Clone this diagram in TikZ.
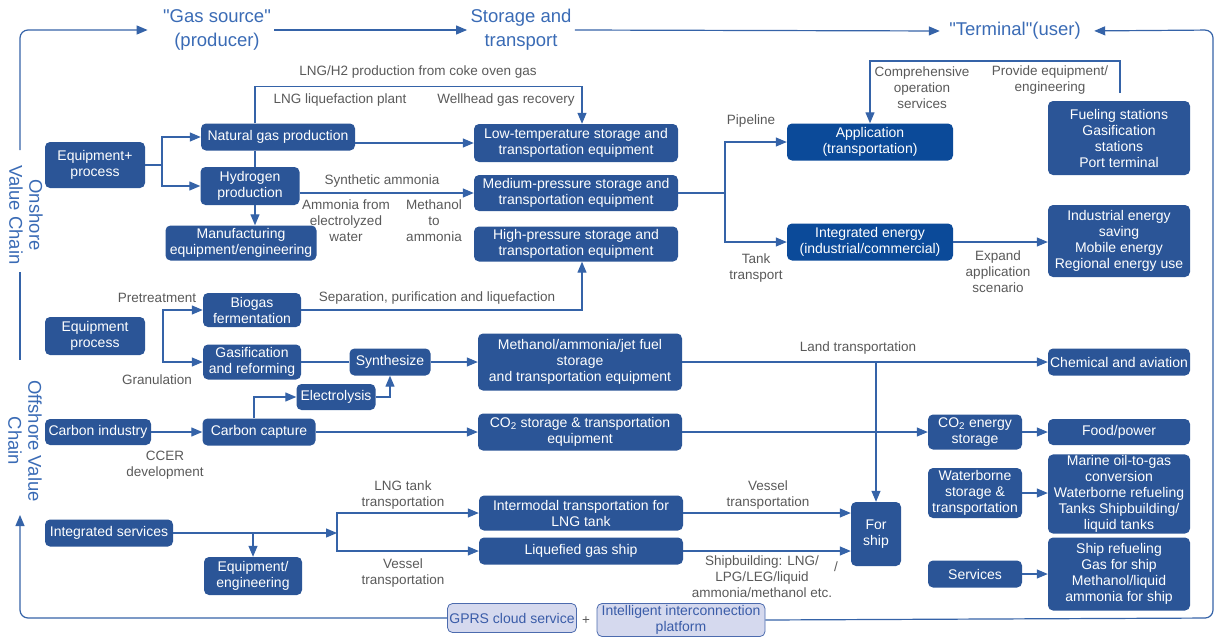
\documentclass[tikz,border=0pt]{standalone}
\usepackage{fontspec}
\setmainfont{Liberation Sans}
\usepackage{tikz}
\usetikzlibrary{arrows.meta,positioning,calc}

\definecolor{boxblue}{HTML}{2B5597}
\definecolor{appblue}{HTML}{0B4A99}
\definecolor{lineblue}{HTML}{3563A8}
\definecolor{titleblue}{HTML}{3A6BB5}
\definecolor{txtgray}{HTML}{595959}
\definecolor{lightfill}{HTML}{D5D9EE}
\definecolor{lightdraw}{HTML}{4C6BAE}
\definecolor{lighttext}{HTML}{3A5CA8}

\begin{document}
\begin{tikzpicture}[
    x=1pt, y=-1pt,
    box/.style={rectangle, rounded corners=5pt, fill=boxblue, text=white, align=center, inner sep=1pt, font=\fontsize{14}{16}\selectfont},
    appbox/.style={box, fill=appblue},
    lightbox/.style={box, fill=lightfill, draw=lightdraw, line width=0.8pt, text=lighttext},
    lbl/.style={text=txtgray, align=center, inner sep=0pt, font=\fontsize{13.5}{16}\selectfont},
    heading/.style={text=titleblue, align=center, font=\fontsize{18.5}{24}\selectfont},
    side/.style={text=titleblue, align=center, rotate=-90, font=\fontsize{18.5}{20}\selectfont},
    conn/.style={draw=lineblue, line width=1.2pt},
    arrow/.style={conn, -{Triangle[length=11pt,width=9pt]}}
]
    \useasboundingbox (0,0) rectangle (1215,637);

    % Headings
    \node[heading] (src) at (217,30) {\textquotedbl Gas source\textquotedbl\\(producer)};
    \node[heading] (sto) at (521,30) {Storage and\\transport};
    \node[heading] (term) at (1015,31) {\textquotedbl Terminal\textquotedbl(user)};
    \node[side] (onshore) at (26,215) {Onshore\\Value Chain};
    \node[side] (offshore) at (25,441) {Offshore Value\\Chain};

    % Onshore: gas source
    \node[box, minimum width=100, minimum height=46] (eqp1) at (95,165) {Equipment+\\process};
    \node[box, minimum width=154, minimum height=27] (ngp) at (278,137) {Natural gas production};
    \node[box, minimum width=99, minimum height=38] (h2p) at (250,186) {Hydrogen\\production};
    \node[box, minimum width=151, minimum height=35] (mfg) at (241,243) {Manufacturing\\equipment/engineering};

    % Onshore: storage and transport
    \node[box, minimum width=204, minimum height=38] (lowT) at (576,143) {Low-temperature storage and\\transportation equipment};
    \node[box, minimum width=204, minimum height=36] (medP) at (576,193) {Medium-pressure storage and\\transportation equipment};
    \node[box, minimum width=204, minimum height=35] (highP) at (576,244) {High-pressure storage and\\transportation equipment};

    % Onshore: terminal
    \node[appbox, minimum width=166, minimum height=37] (app) at (870,142) {Application\\(transportation)};
    \node[appbox, minimum width=166, minimum height=37] (integ) at (870,242) {Integrated energy\\(industrial/commercial)};
    \node[box, minimum width=142, minimum height=74] (fuel) at (1119,138) {Fueling stations\\Gasification\\stations\\Port terminal};
    \node[box, minimum width=142, minimum height=72] (indus) at (1119,241) {Industrial energy\\saving\\Mobile energy\\Regional energy use};

    % Bio and synthetic fuels
    \node[box, minimum width=100, minimum height=38] (eqp2) at (95,336) {Equipment\\process};
    \node[box, minimum width=98, minimum height=34] (bio) at (252,310) {Biogas\\fermentation};
    \node[box, minimum width=98, minimum height=35] (gasif) at (252,362) {Gasification\\and reforming};
    \node[box, minimum width=81, minimum height=27] (synth) at (390,362) {Synthesize};
    \node[box, minimum width=79, minimum height=26] (elec) at (336,397) {Electrolysis};
    \node[box, minimum width=204, minimum height=57] (meth) at (580,362) {Methanol/ammonia/jet fuel\\storage\\and transportation equipment};
    \node[box, minimum width=142, minimum height=27] (chem) at (1119,362) {Chemical and aviation};

    % Carbon
    \node[box, minimum width=106, minimum height=26] (carb) at (98,432) {Carbon industry};
    \node[box, minimum width=113, minimum height=27] (cc) at (259,432) {Carbon capture};
    \node[box, minimum width=204, minimum height=37] (co2) at (580,432) {CO\textsubscript{2} storage \& transportation\\equipment};
    \node[box, minimum width=94, minimum height=35] (co2e) at (975,432) {CO\textsubscript{2} energy\\storage};
    \node[box, minimum width=142, minimum height=26] (food) at (1119,432) {Food/power};

    % Offshore
    \node[box, minimum width=128, minimum height=27] (intserv) at (109,533) {Integrated services};
    \node[box, minimum width=98, minimum height=38] (eqeng) at (253,576) {Equipment/\\engineering};
    \node[box, minimum width=204, minimum height=35] (intermodal) at (581,513) {Intermodal transportation for\\LNG tank};
    \node[box, minimum width=204, minimum height=27] (lgship) at (581,551) {Liquefied gas ship};
    \node[box, minimum width=50, minimum height=64] (forship) at (876,534) {For\\ship};
    \node[box, minimum width=94, minimum height=50] (water) at (975,493) {Waterborne\\storage \&\\transportation};
    \node[box, minimum width=142, minimum height=79] (marine) at (1119,494) {Marine oil-to-gas\\conversion\\Waterborne refueling\\Tanks Shipbuilding/\\liquid tanks};
    \node[box, minimum width=94, minimum height=27] (serv) at (975,574) {Services};
    \node[box, minimum width=142, minimum height=73] (shipref) at (1119,574) {Ship refueling\\Gas for ship\\Methanol/liquid\\ammonia for ship};

    % Platform
    \node[lightbox, minimum width=129, minimum height=29] (gprs) at (512,618) {GPRS cloud service};
    \node[lbl] (plus) at (586,621) {+};
    \node[lightbox, minimum width=168, minimum height=33] (platform) at (681,620) {Intelligent interconnection\\platform};

    % Labels
    \node[lbl] (l1) at (418,72) {LNG/H2 production from coke oven gas};
    \node[lbl] (l2) at (340,100) {LNG liquefaction plant};
    \node[lbl] (l3) at (506,100) {Wellhead gas recovery};
    \node[lbl] (l4) at (382,181) {Synthetic ammonia};
    \node[lbl] (l5) at (346,221) {Ammonia from\\electrolyzed\\water};
    \node[lbl] (l6) at (434,221) {Methanol\\to\\ammonia};
    \node[lbl] (l7) at (751,121) {Pipeline};
    \node[lbl] (l8) at (756,268) {Tank\\transport};
    \node[lbl] (l9) at (922,88) {Comprehensive\\operation\\services};
    \node[lbl] (l10) at (1050,80) {Provide equipment/\\engineering};
    \node[lbl] (l11) at (998,272) {Expand\\application\\scenario};
    \node[lbl] (l12) at (157,298) {Pretreatment};
    \node[lbl] (l13) at (157,380) {Granulation};
    \node[lbl] (l14) at (437,298) {Separation, purification and liquefaction};
    \node[lbl] (l15) at (858,348) {Land transportation};
    \node[lbl] (l16) at (165,465) {CCER\\development};
    \node[lbl] (l17) at (403,495) {LNG tank\\transportation};
    \node[lbl] (l18) at (403,573) {Vessel\\transportation};
    \node[lbl] (l19) at (768,495) {Vessel\\transportation};
    \node[lbl] (l20) at (762,577) {Shipbuilding: LNG/\\LPG/LEG/liquid\\ammonia/methanol etc.};
    \node[lbl] (l21) at (836,567) {/};

    % Frame
    \coordinate (tl) at (20,150);
    \coordinate (ml1) at (20,272);
    \coordinate (ml2) at (20,360);
    \coordinate (bl) at (20,515);
    \coordinate (br) at (1213,618);
    \coordinate (tr) at (1213,30);
    \draw[arrow, rounded corners=8pt, shorten >=12pt] (tl) |- (src.west);
    \draw[arrow] (src.east) -- (sto.west);
    \draw[arrow, shorten >=6pt] (sto.east) -- (term.west);
    \draw[conn] (ml1) -- (ml2);
    \draw[arrow, rounded corners=8pt] (gprs.west) -| (bl);
    \draw[arrow, rounded corners=8pt, shorten >=10pt] (platform.east) -- (br) -- (tr) -- (term.east);

    % Onshore arrows
    \coordinate (s1) at (162,165);
    \draw[conn] (eqp1.east) -- (s1);
    \draw[arrow] (s1) |- (ngp.west);
    \draw[arrow] (s1) |- (h2p.west);
    \draw[arrow] (ngp.east |- lowT.west) -- (lowT.west);
    \draw[arrow] ([xshift=-23pt]ngp.north) -- ++(0,-37) -| ([xshift=6pt]lowT.north);
    \draw[conn] ([xshift=-23pt]ngp.south) -- ([xshift=-23pt]ngp.south |- h2p.north);
    \draw[arrow] ([xshift=5pt]h2p.south) -- ([xshift=5pt]h2p.south |- mfg.north);
    \draw[arrow] (h2p.east |- medP.west) -- (medP.west);
    \coordinate (s2) at (725,193);
    \draw[conn] (medP.east) -- (s2);
    \draw[arrow] (s2) |- (app.west);
    \draw[arrow] (s2) |- (integ.west);
    \coordinate (pe) at (1120,93);
    \draw[arrow] (pe) -- ++(0,-32) -| (app.north);
    \draw[arrow] (integ.east) -- (integ.east -| indus.west);

    % Bio / synthesis arrows
    \coordinate (pre) at (163,336);
    \draw[arrow] (pre) |- (bio.west);
    \draw[arrow] (pre) |- (gasif.west);
    \draw[arrow] (bio.east) -| ([xshift=6pt]highP.south);
    \draw[conn] (gasif.east) -- (synth.west);
    \draw[arrow] (synth.east) -- (meth.west);
    \draw[arrow] (elec.east) -| (synth.south);
    \draw[arrow] ([xshift=-5pt]cc.north) |- (elec.west);
    \draw[arrow] (meth.east) -- (chem.west);
    \draw[arrow] (meth.east -| forship.north) -- (forship.north);

    % Carbon arrows
    \draw[arrow] (carb.east) -- (cc.west);
    \draw[arrow] (cc.east) -- (co2.west);
    \draw[arrow] (co2.east) -- (co2e.west);
    \draw[arrow] (co2e.east) -- (food.west);

    % Offshore arrows
    \coordinate (s4) at (337,533);
    \draw[arrow] (intserv.east) -- (s4);
    \draw[arrow] (s4) |- (intermodal.west);
    \draw[arrow] (s4) |- (lgship.west);
    \draw[arrow] (intserv.east -| eqeng.north) -- (eqeng.north);
    \draw[arrow] (intermodal.east) -- (intermodal.east -| forship.west);
    \draw[arrow] (lgship.east) -- (lgship.east -| forship.west);
    \draw[arrow] (water.east) -- (water.east -| marine.west);
    \draw[arrow] (serv.east) -- (serv.east -| shipref.west);
\end{tikzpicture}
\end{document}
